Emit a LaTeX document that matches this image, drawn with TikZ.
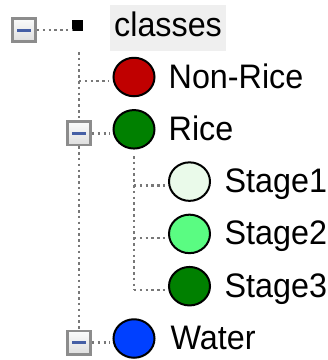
\documentclass[tikz,border=0pt]{standalone}
\usepackage{fontspec}
\setmainfont{Liberation Sans}
\usetikzlibrary{shapes.geometric}
\definecolor{dotgray}{RGB}{120,120,120}
\definecolor{boxgray}{RGB}{140,140,140}
\definecolor{boxtop}{RGB}{250,251,251}
\definecolor{boxbot}{RGB}{222,222,222}
\definecolor{minusblue}{RGB}{69,95,165}
\definecolor{hl}{RGB}{239,239,239}
\definecolor{cred}{RGB}{192,0,0}
\definecolor{cgreen}{RGB}{0,128,0}
\definecolor{cstageone}{RGB}{234,250,234}
\definecolor{cstagetwo}{RGB}{90,252,130}
\definecolor{cblue}{RGB}{0,64,255}
\begin{document}
\begin{tikzpicture}[x=1pt,y=-1pt,
  dotline/.style={draw=dotgray, line width=2.5pt, dash pattern=on 2.5pt off 3.3pt},
  togglebox/.style={rectangle, draw=boxgray, line width=2.6pt, top color=boxtop, bottom color=boxbot,
    minimum width=23.4pt, minimum height=23.4pt, inner sep=0pt,
    path picture={\fill[minusblue] ([xshift=-7pt,yshift=-1.5pt]path picture bounding box.center) rectangle ++(14pt,3pt);}},
  bigdot/.style={ellipse, draw=black, line width=2pt, minimum width=41pt, minimum height=38.5pt, inner sep=0pt},
  lbl/.style={anchor=base west, inner sep=0pt, font=\fontsize{34}{40}\selectfont}
]
\useasboundingbox[fill=white] (0,0) rectangle (328,360);

% toggle boxes
\node[togglebox] (tg0) at (24,30) {};
\node[togglebox] (ricebox) at (79,133.3) {};
\node[togglebox] (waterbox) at (79,342.5) {};

% root
\node[fill=black, minimum size=11pt, inner sep=0pt] (root) at (78,25.5) {};
\node[fill=hl, anchor=north west, minimum width=116pt, minimum height=46pt, inner sep=0pt] (classesbg) at (110,5) {};
\node[lbl] (classes) at (114,36) {\scalebox{0.95}[1]{classes}};

% circles
\node[bigdot, fill=cred] (nonrice) at (134,77) {};
\node[bigdot, fill=cgreen] (rice) at (134,129.3) {};
\node[bigdot, fill=cstageone] (stage1) at (189.5,181.6) {};
\node[bigdot, fill=cstagetwo] (stage2) at (189.5,233.9) {};
\node[bigdot, fill=cgreen] (stage3) at (189.5,286.2) {};
\node[bigdot, fill=cblue] (water) at (134,338.5) {};

% labels
\node[lbl] (nonricel) at (168.5,88) {\scalebox{0.95}[1]{Non-Rice}};
\node[lbl] (ricel) at (168.5,140.3) {\scalebox{0.95}[1]{Rice}};
\node[lbl] (stage1l) at (224.5,192.6) {\scalebox{0.95}[1]{Stage1}};
\node[lbl] (stage2l) at (224.5,244.9) {\scalebox{0.95}[1]{Stage2}};
\node[lbl] (stage3l) at (224.5,297.2) {\scalebox{0.95}[1]{Stage3}};
\node[lbl] (waterl) at (170.5,349.5) {\scalebox{0.95}[1]{Water}};

% junction coordinates
\coordinate (vtop) at (79,52);
\coordinate (j1) at (79,81);
\coordinate (rv) at (134,156);
\coordinate (j3) at (134,185.6);
\coordinate (j4) at (134,237.9);
\coordinate (j5) at (134,290.2);

% connectors
\draw[dotline] (tg0.east) -- (tg0.east -| root.west);
\draw[dotline] (vtop) -- (ricebox.north);
\draw[dotline] (ricebox.south) -- (waterbox.north);
\draw[dotline] (j1) -- ([xshift=-3pt]j1 -| nonrice.west);
\draw[dotline] (ricebox.east) -- ([xshift=-3pt]ricebox.east -| rice.west);
\draw[dotline] (waterbox.east) -- ([xshift=-3pt]waterbox.east -| water.west);
\draw[dotline] (rv) -- (j5);
\draw[dotline] (j3) -- ([xshift=-3pt]j3 -| stage1.west);
\draw[dotline] (j4) -- ([xshift=-3pt]j4 -| stage2.west);
\draw[dotline] (j5) -- ([xshift=-3pt]j5 -| stage3.west);
\end{tikzpicture}
\end{document}
